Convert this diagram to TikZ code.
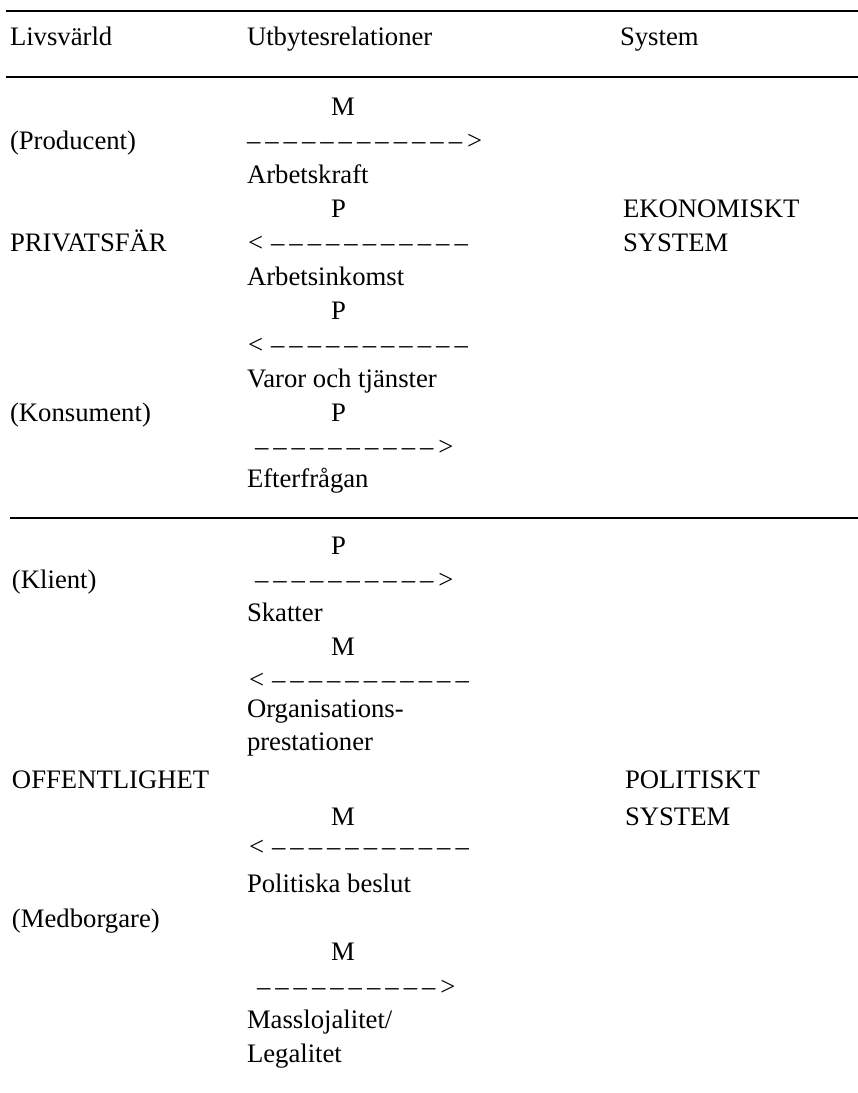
\documentclass[tikz,border=0pt]{standalone}
\usepackage{fontspec}
\setmainfont{Liberation Serif}
\newcommand\onedash{–\kern5pt}
\newcommand\repdash[1]{\ifnum#1>0 \onedash\expandafter\repdash\expandafter{\the\numexpr#1-1\relax}\fi}
\newcommand\rarr[1]{\repdash{#1}>}
\newcommand\larr[1]{<\kern8pt\repdash{#1}}
\begin{document}
\begin{tikzpicture}[x=1pt,y=-1pt,
  lbl/.style={anchor=base west,inner sep=0pt,outer sep=0pt,font=\fontsize{26.7}{32}\selectfont},
  rulel/.style={line width=2pt}]
\useasboundingbox (0,0) rectangle (858,1093);
% rules
\coordinate (r1a) at (6,11);  \coordinate (r1b) at (858,11);
\coordinate (r2a) at (6,77);  \coordinate (r2b) at (858,77);
\coordinate (r3a) at (10,518); \coordinate (r3b) at (858,518);
\draw[rulel] (r1a) -- (r1b);
\draw[rulel] (r2a) -- (r2b);
\draw[rulel] (r3a) -- (r3b);
% header
\node[lbl] (h1) at (10,45) {Livsvärld};
\node[lbl] (h2) at (247,45) {Utbytesrelationer};
\node[lbl] (h3) at (620,45) {System};
% section 1
\node[lbl] (m1) at (331,115) {M};
\node[lbl] (l1) at (10,149) {(Producent)};
\node[lbl] (a1) at (247,149) {\rarr{12}};
\node[lbl] (t1) at (247,183) {Arbetskraft};
\node[lbl] (p1) at (331,217) {P};
\node[lbl] (s1) at (623,217) {EKONOMISKT};
\node[lbl] (l2) at (10,251) {PRIVATSFÄR};
\node[lbl] (a2) at (248,251) {\larr{11}};
\node[lbl] (s2) at (623,251) {SYSTEM};
\node[lbl] (t2) at (247,285) {Arbetsinkomst};
\node[lbl] (p2) at (331,319) {P};
\node[lbl] (a3) at (248,353) {\larr{11}};
\node[lbl] (t3) at (247,387) {Varor och tjänster};
\node[lbl] (l3) at (10,421) {(Konsument)};
\node[lbl] (p3) at (331,421) {P};
\node[lbl] (a4) at (255,455) {\rarr{10}};
\node[lbl] (t4) at (247,487) {Efterfrågan};
% section 2
\node[lbl] (p4) at (331,554) {P};
\node[lbl] (l4) at (12,588) {(Klient)};
\node[lbl] (a5) at (255,588) {\rarr{10}};
\node[lbl] (t5) at (247,621) {Skatter};
\node[lbl] (m2) at (331,655) {M};
\node[lbl] (a6) at (249,688) {\larr{11}};
\node[lbl] (t6) at (247,717) {Organisations-};
\node[lbl] (t7) at (247,750) {prestationer};
\node[lbl] (l5) at (12,788) {OFFENTLIGHET};
\node[lbl] (s3) at (625,788) {POLITISKT};
\node[lbl] (m3) at (331,825) {M};
\node[lbl] (s4) at (625,825) {SYSTEM};
\node[lbl] (a7) at (249,855) {\larr{11}};
\node[lbl] (t8) at (247,892) {Politiska beslut};
\node[lbl] (l6) at (12,927) {(Medborgare)};
\node[lbl] (m4) at (331,960) {M};
\node[lbl] (a8) at (257,995) {\rarr{10}};
\node[lbl] (t9) at (247,1028) {Masslojalitet/};
\node[lbl] (t10) at (247,1062) {Legalitet};
\end{tikzpicture}
\end{document}
